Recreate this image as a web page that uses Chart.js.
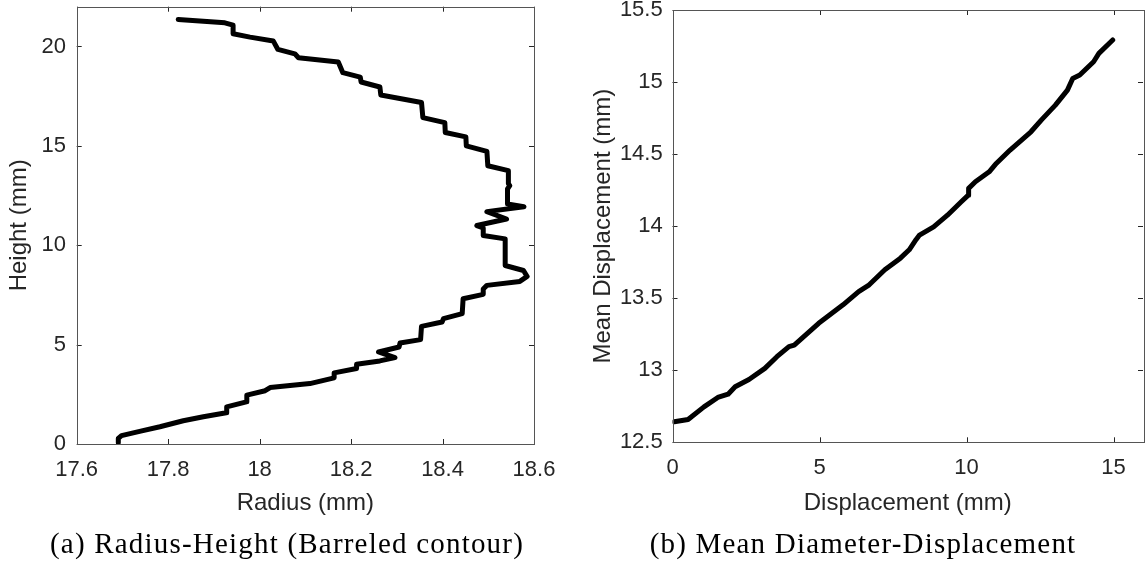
<!DOCTYPE html>
<html>
<head>
<meta charset="utf-8">
<script src="https://cdn.jsdelivr.net/npm/chart.js@4.4.1/dist/chart.umd.min.js"></script>
<style>
  html, body { margin: 0; padding: 0; background: #fff; }
  #page { position: relative; width: 1145px; height: 567px; overflow: hidden; }
  .plot { position: absolute; top: 0; }
  .caption { position: absolute; top: 529px; font-family: "Liberation Serif", serif; font-size: 29px; line-height: 1;
    letter-spacing: 1.2px; color: #000; white-space: nowrap; transform: translateX(-50%); }
</style>
</head>
<body>
<div id="page">
  <div class="plot" style="left:0;width:580px;height:567px"><canvas id="chart-a"></canvas></div>
  <div class="plot" style="left:580px;width:565px;height:567px"><canvas id="chart-b"></canvas></div>
  <div class="caption" style="left:287px">(a) Radius-Height (Barreled contour)</div>
  <div class="caption" style="left:863px">(b) Mean Diameter-Displacement</div>
</div>
<script>
// (a) radius vs height, traced bottom to top
const radius = [17.691, 17.691, 17.698, 17.740, 17.782, 17.833, 17.877, 17.927, 17.928, 17.971, 17.972, 18.012, 18.023, 18.110,
  18.163, 18.163, 18.212, 18.212, 18.263, 18.296, 18.260, 18.305, 18.307, 18.352, 18.354, 18.399, 18.402, 18.443, 18.445,
  18.489, 18.489, 18.497, 18.569, 18.585, 18.577, 18.537, 18.537, 18.489, 18.489, 18.475, 18.540, 18.497, 18.578, 18.542,
  18.542, 18.547, 18.544, 18.544, 18.499, 18.497, 18.452, 18.451, 18.406, 18.405, 18.357, 18.354, 18.265, 18.263, 18.222,
  18.220, 18.182, 18.172, 18.085, 18.077, 18.040, 18.030, 17.979, 17.942, 17.942, 17.924, 17.822];
const height = [0.07, 0.28, 0.42, 0.65, 0.87, 1.17, 1.37, 1.57, 1.87, 2.12, 2.46, 2.68, 2.84, 3.04,
  3.33, 3.58, 3.80, 4.01, 4.18, 4.35, 4.63, 4.88, 5.08, 5.25, 5.92, 6.14, 6.31, 6.56, 7.31,
  7.53, 7.80, 7.98, 8.18, 8.43, 8.73, 8.98, 10.32, 10.49, 10.87, 10.99, 11.32, 11.69, 11.94, 12.08,
  12.83, 13.00, 13.10, 13.75, 14.00, 14.72, 15.00, 15.45, 15.67, 16.17, 16.42, 17.18, 17.56, 17.96, 18.21,
  18.46, 18.68, 19.22, 19.43, 19.63, 19.85, 20.27, 20.47, 20.64, 21.07, 21.19, 21.36];
const radiusTicks = [17.6, 17.8, 18, 18.2, 18.4, 18.6];
const heightTicks = [0, 5, 10, 15, 20];

// (b) mean displacement vs displacement
const displacement = [0.06, 0.53, 1.07, 1.54, 1.89, 2.13, 2.60, 3.14, 3.55, 3.96, 4.14, 4.97, 5.80, 6.33, 6.69,
  7.22, 7.75, 8.05, 8.28, 8.40, 8.88, 9.35, 9.82, 10.06, 10.07, 10.30, 10.77, 11.01, 11.48, 12.19, 12.54,
  13.02, 13.43, 13.61, 13.85, 14.32, 14.50, 14.97];
const meanDisp = [12.642, 12.658, 12.746, 12.811, 12.834, 12.885, 12.936, 13.013, 13.094, 13.164, 13.175, 13.326,
  13.454, 13.546, 13.593, 13.697, 13.778, 13.836, 13.906, 13.938, 13.995, 14.076, 14.169, 14.215, 14.262, 14.308,
  14.377, 14.435, 14.528, 14.655, 14.736, 14.840, 14.944, 15.025, 15.049, 15.141, 15.199, 15.292];
const dispTicks = [0, 5, 10, 15];
const meanTicks = [12.5, 13, 13.5, 14, 14.5, 15, 15.5];

const tickFont = { family: 'Liberation Sans', size: 22 };
const titleFont = { family: 'Liberation Sans', size: 24 };
const ink = '#262626';

// matlab style box with inward ticks on all four sides
const boxTicks = {
  id: 'boxTicks',
  afterDraw(chart) {
    const { ctx, chartArea: a, scales } = chart;
    const len = 5;
    ctx.save();
    ctx.strokeStyle = ink;
    ctx.lineWidth = 1;
    ctx.beginPath();
    scales.x.ticks.forEach(t => {
      const px = Math.round(scales.x.getPixelForValue(t.value)) + 0.5;
      ctx.moveTo(px, a.bottom); ctx.lineTo(px, a.bottom - len);
      ctx.moveTo(px, a.top); ctx.lineTo(px, a.top + len);
    });
    scales.y.ticks.forEach(t => {
      const py = Math.round(scales.y.getPixelForValue(t.value)) + 0.5;
      ctx.moveTo(a.left, py); ctx.lineTo(a.left + len, py);
      ctx.moveTo(a.right, py); ctx.lineTo(a.right - len, py);
    });
    ctx.stroke();
    ctx.strokeStyle = '#555';
    ctx.strokeRect(Math.round(a.left) + 0.5, Math.round(a.top) + 0.5,
      Math.round(a.right - a.left), Math.round(a.bottom - a.top));
    ctx.restore();
  }
};

function makeChart(id, xs, ys, opt) {
  const pts = xs.map((x, i) => ({ x: x, y: ys[i] }));
  return new Chart(document.getElementById(id), {
    type: 'scatter',
    data: { datasets: [{ data: pts, showLine: true, borderColor: '#000', borderWidth: 5,
      pointRadius: 0, tension: 0, borderJoinStyle: 'round', borderCapStyle: 'round' }] },
    options: {
      responsive: true, maintainAspectRatio: false, animation: false,
      layout: { padding: opt.pad },
      plugins: { legend: { display: false }, tooltip: { enabled: false } },
      scales: {
        x: {
          min: opt.xMin, max: opt.xMax,
          grid: { display: false, drawTicks: false }, border: { display: false },
          afterBuildTicks: s => { s.ticks = opt.xTicks.map(v => ({ value: v })); },
          afterFit: s => { s.height = opt.xH; s.paddingLeft = 0; s.paddingRight = 0; },
          ticks: { font: tickFont, color: ink, padding: 12.8, maxRotation: 0, autoSkip: false, callback: v => String(v) },
          title: { display: true, text: opt.xTitle, font: titleFont, color: ink, padding: { top: 0, bottom: 49.6 } }
        },
        y: {
          min: opt.yMin, max: opt.yMax,
          grid: { display: false, drawTicks: false }, border: { display: false },
          afterBuildTicks: s => { s.ticks = opt.yTicks.map(v => ({ value: v })); },
          afterFit: s => { s.width = opt.yW; s.paddingTop = 0; s.paddingBottom = 0; },
          ticks: { font: Object.assign({ lineHeight: 0.8 }, tickFont), color: ink, padding: opt.yPad, autoSkip: false, callback: v => String(v) },
          title: { display: true, text: opt.yTitle, font: titleFont, color: ink, padding: { top: opt.yTitlePad, bottom: 0 } }
        }
      }
    },
    plugins: [boxTicks]
  });
}

makeChart('chart-a', radius, height, {
  pad: { top: 6.7, right: 46, bottom: 0, left: 0 },
  xMin: 17.6, xMax: 18.6, yMin: 0, yMax: 22,
  xTicks: radiusTicks, yTicks: heightTicks,
  xH: 123, yW: 76.7, yPad: 10.7, yTitlePad: 5,
  xTitle: 'Radius (mm)', yTitle: 'Height (mm)'
});

makeChart('chart-b', displacement, meanDisp, {
  pad: { top: 10, right: 2, bottom: 0, left: 0 },
  xMin: 0, xMax: 16, yMin: 12.5, yMax: 15.5,
  xTicks: dispTicks, yTicks: meanTicks,
  xH: 124.7, yW: 92.5, yPad: 9.8, yTitlePad: 8.6,
  xTitle: 'Displacement (mm)', yTitle: 'Mean Displacement (mm)'
});
</script>
</body>
</html>
